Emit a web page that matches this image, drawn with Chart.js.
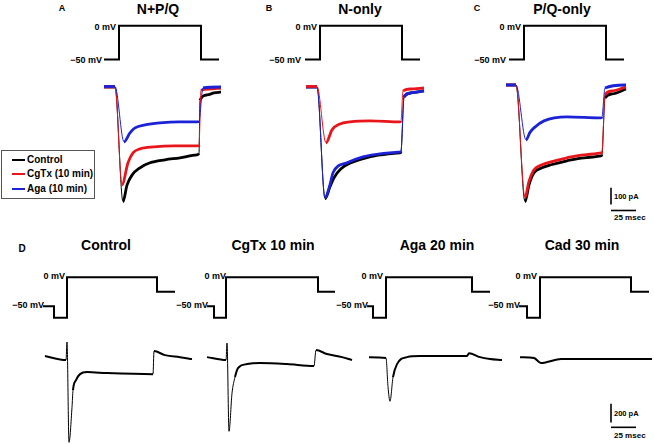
<!DOCTYPE html>
<html lang="en">
<head>
<meta charset="UTF-8">
<title>Ca current traces</title>
<script src="https://cdn.jsdelivr.net/npm/chart.js"></script>
<style>
    body { margin: 0; background: #ffffff; }
    #fig {
        position: relative;
        width: 654px;
        height: 444px;
        overflow: hidden;
        font-family: "Liberation Sans", Arial, sans-serif;
        font-weight: bold;
        color: #000;
    }
    #fig canvas { position: absolute; }
    .t { position: absolute; white-space: nowrap; transform: translate(-50%, -50%); }
    .title { font-size: 14px; }
    .letter { font-size: 9px; }
    .mv { font-size: 9px; transform: translate(-100%, -50%); }
    .bar { font-size: 7.5px; transform: translate(0, -50%); }
    .legend {
        position: absolute;
        left: 1px; top: 150px;
        width: 92px; height: 47px;
        border: 1px solid #555;
        font-size: 10px;
    }
    .legend div { position: absolute; left: 25px; line-height: 12px; }
    .legend span { position: absolute; left: -15px; top: 5px; width: 13px; height: 2px; }
</style>
</head>
<body>
<div id="fig">
    <div class="t letter" style="left:62px;top:8px">A</div>
    <div class="t title" style="left:158px;top:9px">N+P/Q</div>
    <div class="t letter" style="left:269px;top:8px">B</div>
    <div class="t title" style="left:360px;top:9px">N-only</div>
    <div class="t letter" style="left:477px;top:8px">C</div>
    <div class="t title" style="left:562px;top:9px">P/Q-only</div>

    <div class="t mv" style="left:116px;top:27px">0 mV</div>
    <div class="t mv" style="left:102px;top:60px">&minus;50 mV</div>
    <div class="t mv" style="left:317px;top:27px">0 mV</div>
    <div class="t mv" style="left:301px;top:60px">&minus;50 mV</div>
    <div class="t mv" style="left:521px;top:27px">0 mV</div>
    <div class="t mv" style="left:506px;top:60px">&minus;50 mV</div>

    <div class="legend">
        <div style="top:3px"><span style="background:#000"></span>Control</div>
        <div style="top:17px"><span style="background:#e8151b"></span>CgTx (10 min)</div>
        <div style="top:32px"><span style="background:#1c22d6"></span>Aga (10 min)</div>
    </div>

    <div class="t bar" style="left:614px;top:196px">100 pA</div>
    <div class="t bar" style="left:614px;top:217px;font-size:8px">25 msec</div>

    <div class="t letter" style="left:22px;top:248px;font-size:10px">D</div>
    <div class="t title" style="left:106px;top:245px">Control</div>
    <div class="t title" style="left:273px;top:245px">CgTx 10 min</div>
    <div class="t title" style="left:437px;top:245px">Aga 20 min</div>
    <div class="t title" style="left:582px;top:245px">Cad 30 min</div>

    <div class="t mv" style="left:65px;top:276px">0 mV</div>
    <div class="t mv" style="left:44px;top:305px">&minus;50 mV</div>
    <div class="t mv" style="left:226px;top:276px">0 mV</div>
    <div class="t mv" style="left:208px;top:305px">&minus;50 mV</div>
    <div class="t mv" style="left:383px;top:276px">0 mV</div>
    <div class="t mv" style="left:368px;top:305px">&minus;50 mV</div>
    <div class="t mv" style="left:537px;top:276px">0 mV</div>
    <div class="t mv" style="left:520px;top:305px">&minus;50 mV</div>

    <div class="t bar" style="left:614px;top:413px">200 pA</div>
    <div class="t bar" style="left:614px;top:435px;font-size:8px">25 msec</div>
</div>
<script>
    // voltage protocol, top row (ms, mV)
    const topProtocol = [[0, -50], [15, -50], [15, 0], [97, 0], [97, -50], [115, -50]];

    // voltage protocols, row D (ms, mV)
    const dProtoControl = [[0, -50], [11, -50], [11, -70], [24, -70], [24, 0], [114, 0], [114, -25], [132, -25]];
    const dProtoCgTx = [[0, -50], [7, -50], [7, -70], [19, -70], [19, 0], [111, 0], [111, -25], [128, -25]];
    const dProtoAga = [[0, -50], [6, -50], [6, -70], [19, -70], [19, 0], [105, 0], [105, -25], [123, -25]];
    const dProtoCad = [[0, -50], [8, -50], [8, -70], [21, -70], [21, 0], [112, 0], [112, -25], [130, -25]];

    // A: N+P/Q currents (ms, pA)
    const aControl = [[0, 0], [11, 0], [19, -690], [23, -590], [28, -530], [36, -486], [46, -456], [61, -438], [76, -426], [93, -408], [95, -400], [96, -80], [103, -48], [110, -36], [117, -30]];
    const aCgTx = [[0, 0], [11, 0], [18, -588], [24, -456], [29, -396], [36, -372], [50, -360], [70, -354], [93, -354], [95, -350], [97, -20], [105, -12], [117, -6]];
    const aAga = [[0, 3], [11, 3], [20, -330], [26, -276], [31, -246], [41, -228], [56, -216], [75, -210], [93, -210], [95, -205], [99, -5], [117, 0]];

    // B: N-only
    const bControl = [[0, 0], [11, 0], [19, -672], [24, -600], [28, -546], [35, -492], [45, -456], [60, -426], [75, -408], [94, -396], [95, -390], [98, -60], [105, -36], [118, -24]];
    const bCgTx = [[0, 3], [11, 3], [20, -336], [26, -258], [34, -222], [44, -210], [64, -204], [94, -210], [95, -205], [97, -24], [104, -12], [118, -6]];
    const bAga = [[0, 0], [11, 0], [19, -666], [24, -588], [27, -516], [41, -456], [57, -420], [74, -402], [94, -390], [95, -385], [98, -60], [105, -36], [118, -24]];

    // C: P/Q-only
    const cControl = [[0, 0], [10, 0], [19, -702], [23, -600], [28, -528], [36, -498], [45, -480], [61, -456], [78, -438], [95, -426], [96, -418], [99, -78], [106, -54], [120, -24]];
    const cCgTx = [[0, 0], [10, 0], [19, -678], [23, -580], [28, -510], [36, -480], [45, -462], [61, -438], [78, -420], [95, -408], [96, -400], [99, -60], [106, -36], [120, -12]];
    const cAga = [[0, 0], [10, 0], [20, -330], [24, -285], [28, -258], [38, -216], [61, -192], [95, -198], [96, -192], [99, -18], [120, 0]];

    // D: single cell over time
    const dControl = [[0, 21], [21, -21], [22, 168], [24, -882], [27, -515], [28, -336], [31, -231], [35, -168], [42, -147], [62, -157], [108, -168], [109, 73], [120, 31], [135, 10], [147, -10]];
    const dCgTx = [[0, 10], [19, -21], [20, 157], [22, -767], [25, -368], [28, -199], [31, -105], [40, -63], [53, -52], [80, -63], [107, -84], [109, 84], [120, 42], [135, 10], [145, -21]];
    const dAga = [[0, 10], [17, 0], [19, -300], [21, -452], [24, -199], [28, -63], [38, 10], [51, 21], [80, 21], [98, 21], [100, 52], [111, 10], [121, -10], [133, -21]];
    const dCad = [[0, 10], [14, 0], [21, -52], [27, -42], [41, -10], [80, -10], [132, -10]];

    // scale bars
    const topBar = { pA: 100, ms: 25 };
    const dBar = { pA: 200, ms: 25 };

    const RED = '#e8151b';
    const BLUE = '#1c22d6';

    // fast parts of a recorded trace come out thin, the noisy slow parts thick
    function trace(pts, color, width) {
        return {
            data: pts,
            borderColor: color,
            borderWidth: width,
            pointRadius: 0,
            fill: false,
            cubicInterpolationMode: 'monotone',
            segment: {
                borderWidth: ctx => {
                    const dx = Math.abs(ctx.p1.x - ctx.p0.x);
                    const dy = Math.abs(ctx.p1.y - ctx.p0.y);
                    return dy > 5 * dx ? 1 : width;
                }
            }
        };
    }

    function step(pts, width) {
        return { data: pts, borderColor: '#000', borderWidth: width, pointRadius: 0, fill: false, tension: 0 };
    }

    // ox, oy: page pixel of (0 ms, 0); px: pixels per ms and per unit
    function panel(ox, oy, pxX, pxY, xr, yr, datasets) {
        const c = document.createElement('canvas');
        c.width = Math.round((xr[1] - xr[0]) * pxX);
        c.height = Math.round((yr[1] - yr[0]) * pxY);
        c.style.left = (ox + xr[0] * pxX) + 'px';
        c.style.top = (oy - yr[1] * pxY) + 'px';
        document.getElementById('fig').appendChild(c);
        new Chart(c, {
            type: 'line',
            data: { datasets: datasets },
            options: {
                responsive: false,
                animation: false,
                events: [],
                layout: { padding: 0 },
                plugins: { legend: { display: false }, tooltip: { enabled: false } },
                scales: {
                    x: { type: 'linear', min: xr[0], max: xr[1], display: false },
                    y: { type: 'linear', min: yr[0], max: yr[1], display: false }
                }
            }
        });
    }

    const topMv = 34 / 50;
    const topPa = 1 / 6;
    const dMv = 29 / 50;
    const dPa = 19 / 200;

    // top row protocols
    [104, 305, 509].forEach(x0 => {
        panel(x0, 26, 1, topMv, [-3, 118], [-55, 4], [step(topProtocol, 2)]);
    });

    // top row currents (first dataset is drawn on top)
    panel(104, 87, 1, topPa, [-3, 121], [-740, 30], [
        trace(aAga, BLUE, 2.8), trace(aCgTx, RED, 2.8), trace(aControl, '#000', 2.8)
    ]);
    panel(306, 87, 1, topPa, [-3, 121], [-740, 30], [
        trace(bCgTx, RED, 2.8), trace(bAga, BLUE, 2.8), trace(bControl, '#000', 2.8)
    ]);
    panel(506, 85, 1, topPa, [-3, 123], [-740, 30], [
        trace(cAga, BLUE, 2.8), trace(cCgTx, RED, 2.8), trace(cControl, '#000', 2.8)
    ]);

    // scale bar, top
    panel(611, 204, 1, topPa, [-2, 27], [-45, 104], [
        step([[0, 0], [0, topBar.pA]], 1.6),
        step([[0, -36], [topBar.ms, -36]], 1.6)
    ]);

    // row D protocols
    panel(43, 277, 1, dMv, [-2, 135], [-74, 4], [step(dProtoControl, 2)]);
    panel(207, 277, 1, dMv, [-2, 131], [-74, 4], [step(dProtoCgTx, 2)]);
    panel(367, 277, 1, dMv, [-2, 126], [-74, 4], [step(dProtoAga, 2)]);
    panel(519, 277, 1, dMv, [-2, 133], [-74, 4], [step(dProtoCad, 2)]);

    // row D currents
    panel(45, 358, 1, dPa, [-2, 150], [-900, 200], [trace(dControl, '#000', 2)]);
    panel(207, 358, 1, dPa, [-2, 148], [-900, 200], [trace(dCgTx, '#000', 2)]);
    panel(369, 358, 1, dPa, [-2, 136], [-900, 200], [trace(dAga, '#000', 2)]);
    panel(520, 358, 1, dPa, [-2, 134], [-900, 200], [trace(dCad, '#000', 2)]);

    // scale bar, row D
    panel(611, 423, 1, dPa, [-2, 27], [-70, 208], [
        step([[0, 0], [0, dBar.pA]], 1.6),
        step([[0, -52], [dBar.ms, -52]], 1.6)
    ]);
</script>
</body>
</html>
